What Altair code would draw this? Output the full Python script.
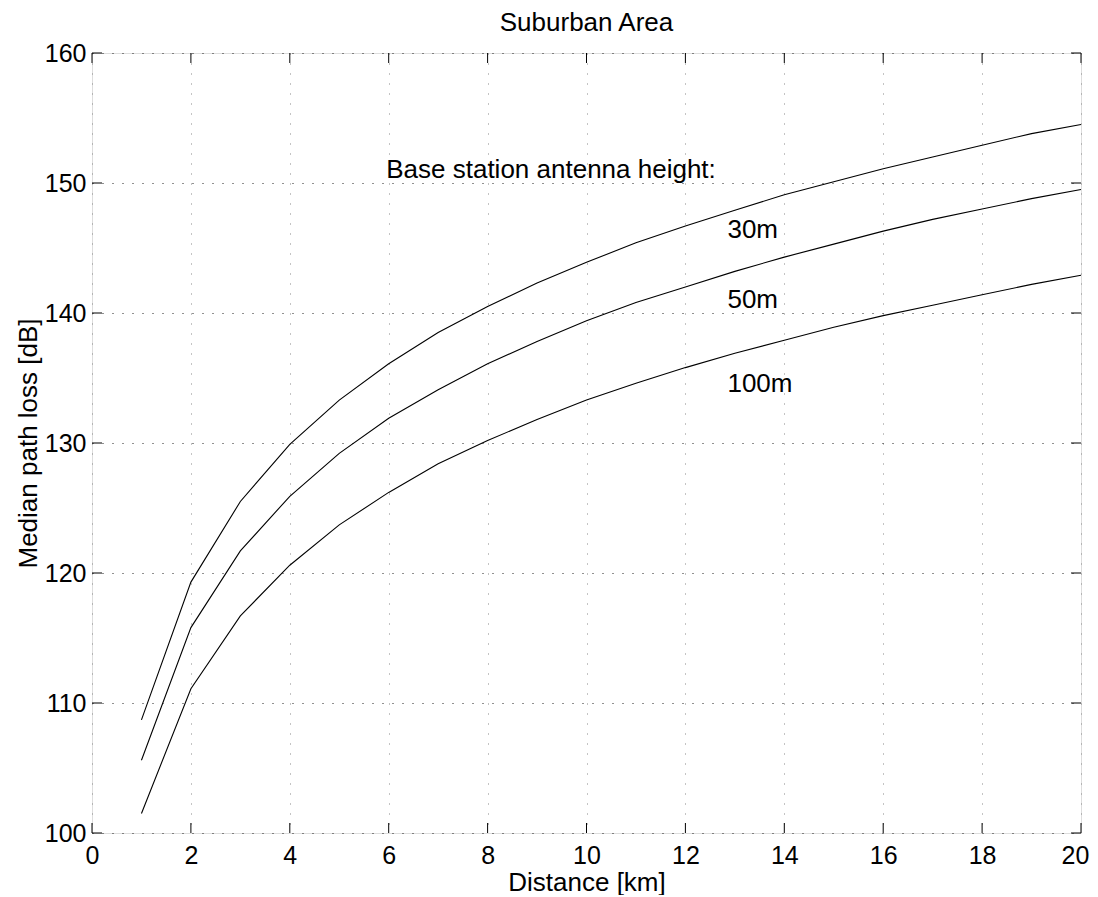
import altair as alt
import pandas as pd

# ---- data ----
distance = list(range(1, 21))
loss_30m = [108.7, 119.3, 125.5, 129.9, 133.3, 136.1, 138.5, 140.5, 142.3, 143.9,
            145.4, 146.7, 147.9, 149.1, 150.1, 151.1, 152.0, 152.9, 153.8, 154.5]
loss_50m = [105.6, 115.8, 121.7, 125.9, 129.2, 131.9, 134.1, 136.1, 137.8, 139.4,
            140.8, 142.0, 143.2, 144.3, 145.3, 146.3, 147.2, 148.0, 148.8, 149.5]
loss_100m = [101.5, 111.1, 116.7, 120.6, 123.7, 126.2, 128.4, 130.2, 131.8, 133.3,
             134.6, 135.8, 136.9, 137.9, 138.9, 139.8, 140.6, 141.4, 142.2, 142.9]
x_ticks = list(range(0, 21, 2))
y_ticks = list(range(100, 161, 10))
label_text = ["Base station antenna height:", "30m", "50m", "100m"]
label_x = [5.95, 12.85, 12.85, 12.85]
label_y = [151.0, 146.35, 141.0, 134.55]

FONT = "Liberation Sans, Arial, Helvetica, sans-serif"
W, H = 989, 780
TICK = 10

rows = []
for name, vals in [("30m", loss_30m), ("50m", loss_50m), ("100m", loss_100m)]:
    for d, v in zip(distance, vals):
        rows.append({"distance": d, "loss": v, "height": name})
df = pd.DataFrame(rows)

xdf = pd.DataFrame({"xt": x_ticks})
ydf = pd.DataFrame({"yt": y_ticks})
ldf = pd.DataFrame({"x": label_x, "y": label_y, "text": label_text})

xscale = alt.Scale(domain=[0, 20], nice=False, zero=False)
yscale = alt.Scale(domain=[100, 160], nice=False, zero=False)

lines = alt.Chart(df).mark_line(color="black", strokeWidth=1.1).encode(
    x=alt.X("distance:Q", scale=xscale,
            axis=alt.Axis(values=x_ticks, format="d", title="Distance [km]",
                          grid=True, gridDash=[1, 9], gridColor="#888888",
                          gridOpacity=1, gridWidth=1,
                          domain=False, ticks=False, tickSize=0,
                          labelPadding=10, labelFontSize=25, labelFont=FONT,
                          labelColor="black", labelFlush=False,
                          labelOffset={"condition": {"test": "datum.value == 20", "value": -6},
                                       "value": 0},
                          titleFontSize=26, titleFont=FONT, titleFontWeight="normal",
                          titleColor="black", titleBaseline="alphabetic",
                          titleX=W / 2, titleY=57, titleAlign="center")),
    y=alt.Y("loss:Q", scale=yscale,
            axis=alt.Axis(values=y_ticks, format="d", title="Median path loss [dB]",
                          grid=True, gridDash=[1, 9], gridColor="#222222",
                          gridOpacity=1, gridWidth=1,
                          domain=False, ticks=False, tickSize=0,
                          labelPadding=6, labelFontSize=25, labelFont=FONT,
                          labelColor="black", labelFlush=False,
                          titleFontSize=26, titleFont=FONT, titleFontWeight="normal",
                          titleColor="black", titleBaseline="alphabetic",
                          titleX=-56, titleY=H / 2, titleAlign="center")),
    detail="height:N",
)

tick_style = dict(color="black", strokeWidth=1)
bottom_ticks = alt.Chart(xdf).mark_rule(**tick_style).encode(
    x=alt.X("xt:Q", scale=xscale), y=alt.value(H), y2=alt.value(H - TICK))
top_ticks = alt.Chart(xdf).mark_rule(**tick_style).encode(
    x=alt.X("xt:Q", scale=xscale), y=alt.value(0), y2=alt.value(TICK))
left_ticks = alt.Chart(ydf).mark_rule(**tick_style).encode(
    y=alt.Y("yt:Q", scale=yscale), x=alt.value(0), x2=alt.value(TICK))
right_ticks = alt.Chart(ydf).mark_rule(**tick_style).encode(
    y=alt.Y("yt:Q", scale=yscale), x=alt.value(W), x2=alt.value(W - TICK))

labels = alt.Chart(ldf).mark_text(
    align="left", baseline="middle", fontSize=26, font=FONT, color="black"
).encode(
    x=alt.X("x:Q", scale=xscale), y=alt.Y("y:Q", scale=yscale), text="text:N")

chart = alt.layer(
    lines, bottom_ticks, top_ticks, left_ticks, right_ticks, labels
).properties(
    width=W, height=H,
    title=alt.TitleParams(text="Suburban Area", fontSize=26, font=FONT,
                          fontWeight="normal", color="black", anchor="middle",
                          offset=5),
    autosize=alt.AutoSizeParams(type="none"),
    padding={"left": 84, "top": 45, "right": 9, "bottom": 62},
).configure_view(
    stroke="black", strokeWidth=1.5
).configure(background="white")

chart.save("out.html", embed_options={"renderer": "svg", "actions": False})
